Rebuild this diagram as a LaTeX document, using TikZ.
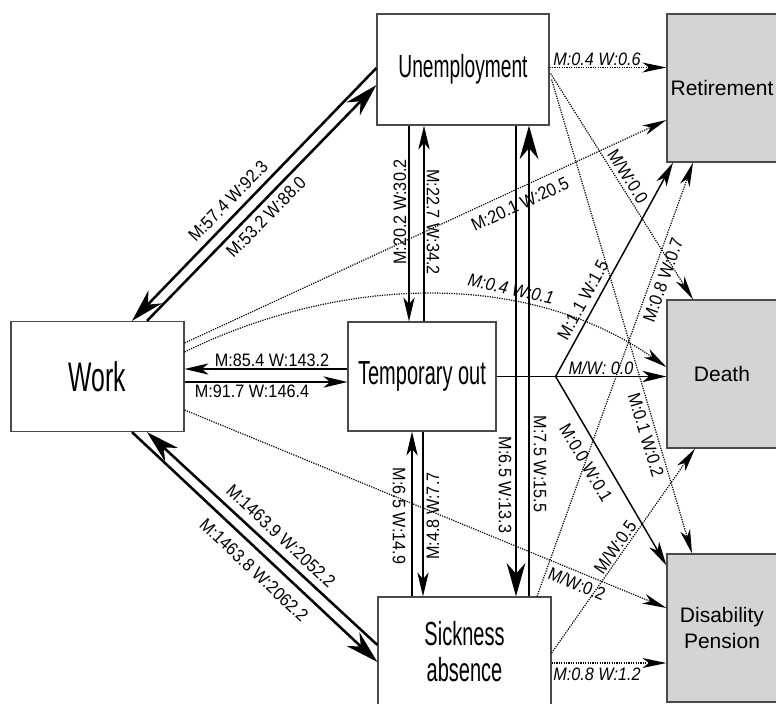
\documentclass[tikz,border=0pt]{standalone}
\usepackage{fontspec}
\setmainfont{Liberation Sans}
\newfontfamily\stateface[FakeStretch=0.6]{Liberation Sans}
\newfontfamily\rateface[FakeStretch=0.9]{Liberation Sans}
\usetikzlibrary{arrows.meta}
\definecolor{msBorder}{HTML}{4A4A4A}
\definecolor{msAbsorb}{HTML}{D4D4D4}
\tikzset{
  ms diagram/.style={x=0.75pt, y=-0.75pt, line join=miter},
  ms state/.style={draw=msBorder, fill=white, line width=0.9pt,
    minimum width=129.75pt, minimum height=82.5pt, inner sep=0pt,
    align=center, font=\stateface\fontsize{25}{27}\selectfont},
  ms absorb/.style={ms state, fill=msAbsorb, minimum width=82.5pt,
    minimum height=111pt, font=\fontsize{15.75}{20}\selectfont},
  ms big/.style={-{Stealth[length=25pt, width=14pt, inset=8pt]}, line width=1.9pt},
  ms thin/.style={-{Stealth[length=18pt, width=8.5pt, inset=5pt]}, line width=1.1pt},
  ms dotted/.style={-{Stealth[length=18pt, width=7.5pt, inset=5pt]}, line width=0.9pt,
    dash pattern=on 0.9pt off 0.9pt},
  ms rate/.style={font=\rateface\fontsize{13.5}{16}\selectfont, inner sep=0pt},
  ms rate it/.style={ms rate, font=\rateface\itshape\fontsize{13.5}{16}\selectfont}
}
\begin{document}
\begin{tikzpicture}[ms diagram]
\clip (0,0) rectangle (776,704);
\fill[white] (0,0) rectangle (776,704);
% states
\node[ms state, font=\stateface\fontsize{31}{34}\selectfont] (work) at (97.5,376.5) {Work};
\node[ms state, minimum width=129pt, minimum height=83.25pt,
  font=\stateface\fontsize{24}{27}\selectfont] (unemp) at (463,69.5) {Unemployment};
\node[ms state, minimum width=111pt, minimum height=81.75pt] (temp) at (422,376.5) {Temporary out};
\node[ms state] (sick) at (464.5,652) {Sickness\\absence};
\node[ms absorb] (ret) at (722,88) {Retirement};
\node[ms absorb] (death) at (722,374) {Death};
\node[ms absorb] (dis) at (722,628) {Disability\\Pension};
% work <-> unemployment
\draw[ms big] ([shift={(0,-1.5)}]unemp.west) -- ([shift={(34.5,0)}]work.north);
\draw[ms big] ([shift={(49.5,0)}]work.north) -- ([shift={(0,15.5)}]unemp.west);
\node[ms rate, rotate=45.8] (r-uw) at (228,201) {M:57.4 W:92.3};
\node[ms rate, rotate=45.6] (r-wu) at (266,217) {M:53.2 W:88.0};
% work <-> temporary out
\draw[ms thin] ([shift={(0,-7.5)}]temp.west) -- ([shift={(0,-7.5)}]work.east);
\draw[ms thin] ([shift={(0,5.5)}]work.east) -- ([shift={(0,5.5)}]temp.west);
\node[ms rate] (r-tw) at (272,360) {M:85.4 W:143.2};
\node[ms rate] (r-wt) at (252,391) {M:91.7 W:146.4};
% work <-> sickness absence
\draw[ms big] ([shift={(0,-7)}]sick.west) -- ([shift={(49.5,0)}]work.south);
\draw[ms big] ([shift={(34.5,0)}]work.south) -- ([shift={(0,10)}]sick.west);
\node[ms rate, rotate=-43] (r-sw) at (281,536) {M:1463.9 W:2052.2};
\node[ms rate, rotate=-43.3] (r-ws) at (254,570) {M:1463.8 W:2062.2};
% unemployment <-> temporary out
\draw[ms thin] ([shift={(-54,0)}]unemp.south) -- ([shift={(-13,0)}]temp.north);
\draw[ms thin] ([shift={(2,0)}]temp.north) -- ([shift={(-39,0)}]unemp.south);
\node[ms rate, rotate=90] (r-ut) at (400,212) {M:20.2 W:30.2};
\node[ms rate, rotate=-90] (r-tu) at (433,222) {M:22.7 W:34.2};
% temporary out <-> sickness absence
\draw[ms thin] ([shift={(-52.5,0)}]sick.north) -- ([shift={(-10,0)}]temp.south);
\draw[ms thin] ([shift={(1,0)}]temp.south) -- ([shift={(-41.5,0)}]sick.north);
\node[ms rate, rotate=-90] (r-st) at (399,516) {M:6.5 W:14.9};
\node[ms rate, rotate=90] (r-ts) at (433,516) {M:4.8 W:7.7};
% unemployment <-> sickness absence
\draw[ms big] ([shift={(53,0)}]unemp.south) -- ([shift={(51.5,0)}]sick.north);
\draw[ms big] ([shift={(64.5,0)}]sick.north) -- ([shift={(66,0)}]unemp.south);
\node[ms rate, rotate=-90] (r-us) at (505,485) {M:6.5 W:13.3};
\node[ms rate, rotate=-90] (r-su) at (540,464) {M:7.5 W:15.5};
% exits from unemployment
\draw[ms dotted] ([shift={(0,-2)}]unemp.east) -- ([shift={(0,-20.5)}]ret.west);
\draw[ms dotted] ([shift={(1,4)}]unemp.east) -- ([shift={(-29,0)}]death.north);
\draw[ms dotted] ([shift={(2,10)}]unemp.east) -- ([shift={(-30,0)}]dis.north);
\node[ms rate it] (r-ur) at (597,59) {M:0.4 W:0.6};
\node[ms rate, rotate=-57.9] (r-ud) at (628,176) {M/W:0.0};
\node[ms rate, rotate=-73.3] (r-ui) at (646,435) {M:0.1 W:0.2};
% exits from work
\draw[ms dotted] ([shift={(0,-33.5)}]work.east) -- ([shift={(0,32)}]ret.west);
\draw[ms dotted] ([shift={(0,-24.5)}]work.east) .. controls +(146,-72) and +(-147,-102) .. ([shift={(0,-7)}]death.west);
\draw[ms dotted] ([shift={(0,33.5)}]work.east) -- ([shift={(0,-20)}]dis.west);
\node[ms rate, rotate=24.8] (r-wr) at (520,204) {M:20.1 W:20.5};
\node[ms rate it, rotate=-12] (r-wd) at (511,289) {M:0.4 W:0.1};
\node[ms rate, rotate=-22.3] (r-wi) at (577,584) {M/W:0.2};
% exits from temporary out
\coordinate (fork) at ([shift={(59,0)}]temp.east);
\draw[line width=1.1pt] (temp.east) -- (fork);
\draw[ms thin] (fork) -- ([shift={(-49,0)}]ret.south);
\draw[ms thin] (fork) -- (fork -| death.west);
\draw[ms thin] (fork) -- ([shift={(0,12)}]dis.north west);
\node[ms rate, rotate=61.2] (r-tr) at (583,300) {M:1.1 W:1.5};
\node[ms rate it] (r-td) at (601,368) {M/W: 0.0};
\node[ms rate, rotate=-59.7] (r-ti) at (586,463) {M:0.0 W:0.1};
% exits from sickness absence
\draw[ms dotted] ([shift={(72.5,0)}]sick.north) -- ([shift={(-29,0)}]ret.south);
\draw[ms dotted] ([shift={(0,1)}]sick.east) -- ([shift={(-27,0)}]death.south);
\draw[ms dotted] ([shift={(0,11)}]sick.east) -- ([shift={(0,35)}]dis.west);
\node[ms rate, rotate=70.2] (r-sr) at (663,280) {M:0.8 W:0.7};
\node[ms rate, rotate=55.1] (r-sd) at (615,547) {M/W:0.5};
\node[ms rate it] (r-si) at (597,674) {M:0.8 W:1.2};
\end{tikzpicture}
\end{document}
